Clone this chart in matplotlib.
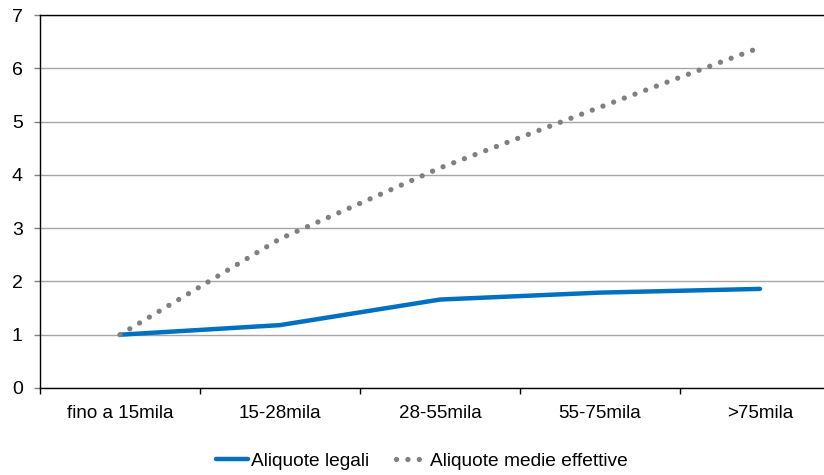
import matplotlib.pyplot as plt
import numpy as np

plt.rcParams['font.family'] = ['Liberation Sans', 'DejaVu Sans']

categories = ['fino a 15mila', '15-28mila', '28-55mila', '55-75mila', '>75mila']
legali = [1.0, 1.18, 1.66, 1.79, 1.86]
effettive = [1.0, 2.80, 4.13, 5.27, 6.39]

fig = plt.figure(figsize=(8.24, 4.75), dpi=100)
ax = fig.add_axes([40/824, 87/475, 800/824, 373/475])

x = np.arange(len(categories))
ax.plot(x, legali, color='#0070C0', lw=3.2, solid_capstyle='round', label='Aliquote legali')
ax.plot(x, effettive, color='#808080', lw=3.8, linestyle=(0, (0.01, 2.15)),
        dash_capstyle='round', label='Aliquote medie effettive')

ax.set_xlim(-0.5, len(categories) - 0.5)
ax.set_ylim(0, 7)
ax.set_yticks(range(8))
ax.set_xticks(x)
ax.set_xticklabels(categories)
ax.set_xticks(np.arange(-0.5, len(categories), 1), minor=True)
ax.tick_params(axis='x', which='major', length=0, pad=12, labelsize=13.5)
ax.tick_params(axis='x', which='minor', length=4, width=1, color='black', direction='out')
ax.tick_params(axis='y', length=4.5, width=1, color='#808080', pad=8, labelsize=14)
ax.grid(axis='y', color='#a6a6a6', lw=1)
ax.set_axisbelow(True)
for s in ['left', 'bottom', 'top']:
    ax.spines[s].set_color('black')
    ax.spines[s].set_linewidth(1)
ax.spines['right'].set_visible(False)

ax.legend(loc='center', bbox_to_anchor=(422/824, 14/475), bbox_transform=fig.transFigure,
          ncol=2, frameon=False, fontsize=13.8, handlelength=1.65, handletextpad=0.15,
          columnspacing=1.4)

fig.savefig('out.png', dpi=100)
